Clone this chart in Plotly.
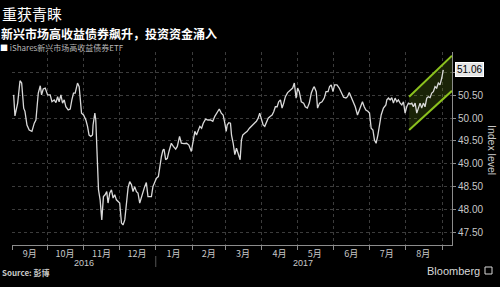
import pandas as pd
import plotly.graph_objects as go

# ---------------- data ----------------
start_date = "2016-09-01"
day_offsets = [
    1.4, 2.5, 4.8, 6.8, 8.2, 9.9, 11.0, 12.7, 14.6, 16.9, 18.9, 20.3, 22.3, 24.0, 25.1, 26.5, 28.2, 30.2,
    32.4, 33.9, 35.8, 37.3, 38.7, 40.0, 41.5, 42.9, 44.3, 45.7, 47.7, 49.4, 50.8, 52.2, 53.6, 55.6, 57.0,
    59.0, 60.7, 62.7, 64.1, 65.4, 66.9, 68.3, 68.8, 70.3, 71.1, 72.6, 73.4, 74.8, 76.2, 77.6, 79.0, 80.4,
    81.5, 83.0, 84.4, 85.8, 87.2, 88.6, 90.0, 91.4, 92.9, 94.2, 95.7, 97.1, 98.5, 99.9, 101.4, 102.7,
    104.1, 105.6, 106.9, 108.4, 109.8, 111.2, 112.6, 114.0, 115.4, 116.8, 118.3, 119.6, 121.1, 122.5,
    124.2, 125.3, 126.8, 128.1, 129.0, 130.4, 131.8, 133.2, 135.2, 136.9, 138.9, 140.3, 142.2, 143.7,
    145.9, 148.2, 150.1, 152.2, 153.5, 155.2, 156.6, 158.1, 159.4, 160.9, 162.3, 164.3, 166.2, 168.5,
    170.4, 172.1, 174.2, 175.9, 177.6, 179.2, 180.6, 181.8, 182.6, 184.0, 185.4, 186.3, 187.7, 189.1,
    190.5, 192.5, 193.6, 194.7, 195.8, 197.5, 199.6, 201.5, 203.8, 205.7, 207.4, 208.9, 210.2, 211.7,
    213.1, 214.5, 215.9, 217.4, 219.3, 220.7, 222.1, 223.5, 225.0, 226.3, 227.8, 229.2, 230.6, 232.0,
    233.9, 236.2, 238.2, 239.6, 241.1, 242.4, 243.8, 245.5, 247.5, 248.9, 250.6, 252.3, 254.0, 255.7,
    256.5, 258.2, 259.3, 261.0, 263.1, 265.0, 266.5, 268.2, 269.5, 270.9, 272.4, 273.7, 275.8, 277.7,
    279.4, 281.4, 283.4, 284.7, 286.2, 287.6, 289.3, 291.3, 293.2, 294.6, 296.1, 297.4, 298.9, 300.3,
    302.0, 303.4, 304.8, 306.3, 307.6, 309.0, 310.5, 311.8, 313.3, 315.2, 317.3, 318.1, 319.5, 320.9,
    322.3, 323.7, 325.1, 326.6, 327.9, 329.4, 330.8, 332.2, 333.6, 335.0, 336.4, 337.8, 339.3, 340.6,
    342.1, 343.5, 344.9, 346.3, 347.7, 349.1, 350.5, 352.0, 353.3, 354.8, 356.2, 357.6, 359.0, 360.4,
    361.8, 363.2, 364.7, 366.0,
]
index_level = [
    50.51, 50.05, 50.33, 50.82, 50.77, 50.22, 50.15, 49.85, 49.74, 49.71, 49.89, 49.96, 50.55, 50.71, 50.51, 50.64, 50.66, 50.51,
    50.51, 50.36, 50.40, 50.34, 50.47, 50.36, 50.51, 50.33, 50.40, 50.25, 50.18, 50.20, 50.40, 50.55, 50.55, 50.77, 50.69,
    50.11, 50.07, 49.96, 49.82, 49.63, 49.60, 49.63, 49.85, 50.11, 49.96, 49.09, 48.43, 48.21, 47.77, 48.28, 48.32, 48.39,
    48.14, 48.36, 48.43, 48.25, 48.32, 48.21, 48.17, 48.14, 47.70, 47.66, 47.77, 48.14, 48.47, 48.61, 48.54, 48.39,
    48.50, 48.39, 48.36, 48.14, 48.28, 48.39, 48.50, 48.59, 48.28, 48.28, 48.28, 48.50, 48.61, 48.68,
    48.72, 48.94, 49.16, 49.30, 49.32, 49.09, 49.12, 49.27, 49.45, 49.38, 49.32, 49.38, 49.60, 49.45,
    49.44, 49.45, 49.41, 49.27, 49.49, 49.71, 49.63, 49.74, 49.82, 49.78, 49.89, 49.98, 49.96, 49.96,
    49.93, 50.04, 50.12, 50.20, 50.11, 50.07, 49.89, 49.71, 49.85, 49.90, 49.89, 49.63, 49.45, 49.20,
    49.34, 49.20, 49.09, 49.52, 49.63, 49.67, 49.71, 49.78, 49.85, 49.89, 49.93, 50.00, 50.11, 49.96,
    49.85, 49.82, 49.93, 50.00, 50.04, 50.07, 50.14, 50.25, 50.25, 50.36, 50.40, 50.22, 50.33, 50.47,
    50.56, 50.61, 50.66, 50.77, 50.44, 50.66, 50.58, 50.36, 50.33, 50.25, 50.22, 50.33, 50.55, 50.66,
    50.69, 50.58, 50.22, 50.33, 50.36, 50.44, 50.58, 50.58, 50.69, 50.73, 50.58, 50.73, 50.73, 50.66,
    50.55, 50.46, 50.44, 50.47, 50.56, 50.47, 50.40, 50.25, 50.07, 50.18, 50.25, 50.36, 50.25, 50.18,
    50.15, 50.11, 49.78, 49.74, 49.52, 49.45, 49.63, 49.85, 50.07, 50.22, 50.29, 50.40, 50.44, 50.40,
    50.45, 50.33, 50.44, 50.36, 50.40, 50.33, 50.29, 50.36, 50.11, 50.25, 50.33, 50.31, 50.33, 50.25,
    50.33, 50.11, 50.25, 50.33, 50.22, 50.33, 50.25, 50.44, 50.47, 50.45, 50.55, 50.58, 50.69, 50.66,
    50.77, 50.73, 50.88, 51.06,
]
last_value_label = "51.06"

# trend channel (start/end dates as day offsets, upper and lower values)
channel_days = [337.0, 373.4]
channel_upper = [50.47, 51.37]
channel_lower = [49.74, 50.60]

month_labels = ["9月", "10月", "11月", "12月", "1月", "2月", "3月", "4月", "5月", "6月", "7月", "8月"]
month_mid_dates = ["2016-09-16", "2016-10-16", "2016-11-16", "2016-12-16", "2017-01-16", "2017-02-15",
                   "2017-03-16", "2017-04-16", "2017-05-16", "2017-06-16", "2017-07-16", "2017-08-16"]
year_labels = ["2016", "2017"]
year_label_dates = ["2016-11-01", "2017-05-06"]
year_divider_date = "2017-01-01"
y_ticks = [47.5, 48.0, 48.5, 49.0, 49.5, 50.0, 50.5, 51.0]
y_tick_text = ["47.50", "48.00", "48.50", "49.00", "49.50", "50.00", "50.50", ""]
x_range_days = [0.0, 373.4]
y_range = [47.22, 51.45]

# ---------------- build ----------------
base = pd.Timestamp(start_date)
dates = base + pd.to_timedelta(day_offsets, unit="D")
ch_dates = base + pd.to_timedelta(channel_days, unit="D")
x_range = list(base + pd.to_timedelta(x_range_days, unit="D"))

CJK = "Noto Sans CJK SC, Noto Sans, sans-serif"
LAT = "Liberation Sans, Arial, sans-serif"
GRID = "#3c3c3c"
AXIS = "#8c8c8c"
TXT = "#c8c8c8"

fig = go.Figure()

# channel fill
fig.add_trace(go.Scatter(
    x=list(ch_dates) + list(ch_dates[::-1]),
    y=channel_upper + channel_lower[::-1],
    fill="toself", fillcolor="rgba(120,160,30,0.22)",
    line=dict(width=0), mode="lines", hoverinfo="skip", showlegend=False))
# channel lines
fig.add_trace(go.Scatter(x=ch_dates, y=channel_upper, mode="lines",
                         line=dict(color="#8cc21e", width=2), showlegend=False))
fig.add_trace(go.Scatter(x=ch_dates, y=channel_lower, mode="lines",
                         line=dict(color="#8cc21e", width=2), showlegend=False))

# main series
fig.add_trace(go.Scatter(x=dates, y=index_level, mode="lines",
                         line=dict(color="#d9d9d9", width=1.3), showlegend=False))

fig.update_layout(
    width=500, height=287,
    margin=dict(l=12, r=48, t=52, b=42),
    paper_bgcolor="black", plot_bgcolor="black",
    showlegend=False,
    xaxis=dict(
        type="date", range=x_range,
        tickvals=month_mid_dates, ticktext=month_labels,
        ticks="", showgrid=False, ticklabelstandoff=0,
        tickfont=dict(family=CJK, size=9, color=TXT),
        showline=True, linecolor=AXIS, linewidth=1,
        zeroline=False,
        minor=dict(dtick="M1", tick0=start_date, showgrid=True, gridcolor=GRID,
                   griddash="dot", gridwidth=1, ticks="outside", ticklen=4, tickcolor=AXIS),
    ),
    yaxis=dict(
        side="right", range=y_range,
        tickvals=y_ticks, ticktext=y_tick_text,
        ticks="outside", ticklen=3, tickcolor=AXIS, ticklabelstandoff=0,
        tickfont=dict(family=LAT, size=10, color=TXT),
        showline=True, linecolor=AXIS, linewidth=1,
        showgrid=True, gridcolor=GRID, griddash="dot", gridwidth=1,
        zeroline=False,
    ),
)

annotations = [
    dict(text="重获青睐", xref="paper", yref="paper", x=-12/440, y=1 + (52-14)/193,
         xanchor="left", yanchor="middle", showarrow=False,
         font=dict(family=CJK, size=15, color="white")),
    dict(text="<b>新兴市场高收益债券飙升，投资资金涌入</b>", xref="paper", yref="paper",
         x=-13/440, y=1 + (52-33)/193, xanchor="left", yanchor="middle", showarrow=False,
         font=dict(family=CJK, size=12, color="white")),
    dict(text="<span style='color:white'>■</span> iShares新兴市场高收益债券ETF", xref="paper", yref="paper",
         x=-14/440, y=1 + (52-48)/193, xanchor="left", yanchor="middle", showarrow=False,
         font=dict(family=CJK, size=8, color="#b8b8b8")),
    dict(text="<b>Source: 彭博</b>", xref="paper", yref="paper",
         x=-12/440, y=-(272-245)/193, xanchor="left", yanchor="middle", showarrow=False,
         font=dict(family=CJK, size=8, color="#c8c8c8")),
    dict(text="Bloomberg", xref="paper", yref="paper",
         x=(482-12)/440, y=-(271-245)/193, xanchor="right", yanchor="middle", showarrow=False,
         font=dict(family=LAT, size=11, color="#d8d8d8")),
    dict(text="Index level", xref="paper", yref="paper", textangle=90,
         x=(492-12)/440, y=1 - (150-52)/193, xanchor="center", yanchor="middle", showarrow=False,
         font=dict(family=LAT, size=10.5, color=TXT)),
    dict(text=last_value_label, xref="paper", yref="y", x=1, y=index_level[-1],
         xanchor="left", yanchor="middle", xshift=3, showarrow=False,
         bgcolor="#e6e6e6", bordercolor="#ffffff", borderwidth=1, borderpad=1,
         font=dict(family=LAT, size=10, color="black")),
]
for lab, d in zip(year_labels, year_label_dates):
    annotations.append(dict(text=lab, xref="x", yref="paper", x=d, y=-(263-245)/193,
                            xanchor="center", yanchor="middle", showarrow=False,
                            font=dict(family=LAT, size=9, color=TXT)))
fig.update_layout(annotations=annotations)

fig.add_shape(type="line", xref="x", yref="paper", x0=year_divider_date, x1=year_divider_date,
              y0=-(256-245)/193, y1=-(267-245)/193, line=dict(color="#555555", width=1))
fig.add_shape(type="rect", xref="paper", yref="paper",
              x0=(485-12)/440, x1=(492-12)/440, y0=-(267-245)/193, y1=-(274-245)/193,
              line=dict(color="#d8d8d8", width=1), fillcolor="rgba(0,0,0,0)")

fig.write_html("out.html")
